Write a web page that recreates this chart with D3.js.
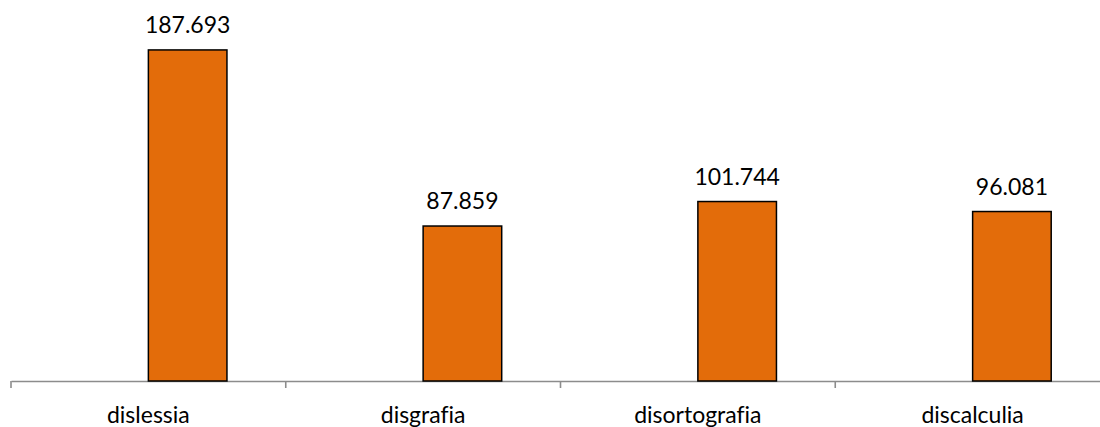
<!DOCTYPE html>
<html lang="it">

<head>
    <meta charset="UTF-8">
    <script src="https://cdnjs.cloudflare.com/ajax/libs/d3/7.8.5/d3.min.js"></script>
    <title>Disturbi specifici dell'apprendimento</title>
    <style>
        body { margin: 0; background: #ffffff; }
        svg text { font-family: Lato, "Open Sans", sans-serif; fill: #000000; font-variant-ligatures: none; }
    </style>
</head>

<body>
    <svg width="1100" height="427"></svg>
    <script>
        var categories = ["dislessia", "disgrafia", "disortografia", "discalculia"];
        var values = [187.693, 87.859, 101.744, 96.081];
        var valueLabels = ["187.693", "87.859", "101.744", "96.081"];

        var svg = d3.select("svg");
        var baseY = 381;

        var x = d3.scaleBand()
            .domain(categories)
            .range([11, 1110]);

        var y = d3.scaleLinear()
            .domain([0, 216])
            .range([baseY, 0]);

        var barW = x.bandwidth() * 0.286;

        // axis line and ticks
        var axis = d3.axisBottom(x)
            .tickSize(0)
            .tickFormat("");
        var gAxis = svg.append("g")
            .attr("transform", "translate(0," + baseY + ")")
            .call(axis);
        gAxis.select(".domain").attr("stroke", "#8c8c8c").attr("stroke-width", 1.6);

        var edges = categories.map(d => x(d));
        gAxis.selectAll("line.edge")
            .data(edges)
            .enter()
            .append("line")
            .attr("class", "edge")
            .attr("x1", d => d)
            .attr("x2", d => d)
            .attr("y1", 0)
            .attr("y2", 7)
            .attr("stroke", "#8c8c8c")
            .attr("stroke-width", 1.6);

        svg.selectAll("text.cat")
            .data(categories)
            .enter()
            .append("text")
            .attr("class", "cat")
            .attr("x", d => x(d) + x.bandwidth() / 2)
            .attr("y", 423)
            .attr("text-anchor", "middle")
            .style("font-size", "23px")
            .text(d => d);

        svg.selectAll("rect.bar")
            .data(values)
            .enter()
            .append("rect")
            .attr("class", "bar")
            .attr("x", (d, i) => x(categories[i]) + x.bandwidth() / 2)
            .attr("y", d => y(d))
            .attr("width", barW)
            .attr("height", d => baseY - y(d))
            .attr("fill", "#e36c0a")
            .attr("stroke", "#000000")
            .attr("stroke-width", 1.5);

        svg.selectAll("text.val")
            .data(values)
            .enter()
            .append("text")
            .attr("class", "val")
            .attr("x", (d, i) => x(categories[i]) + x.bandwidth() / 2 + barW / 2)
            .attr("y", d => y(d) - 17)
            .attr("text-anchor", "middle")
            .style("font-size", "23px")
            .text((d, i) => valueLabels[i]);
    </script>
</body>

</html>
